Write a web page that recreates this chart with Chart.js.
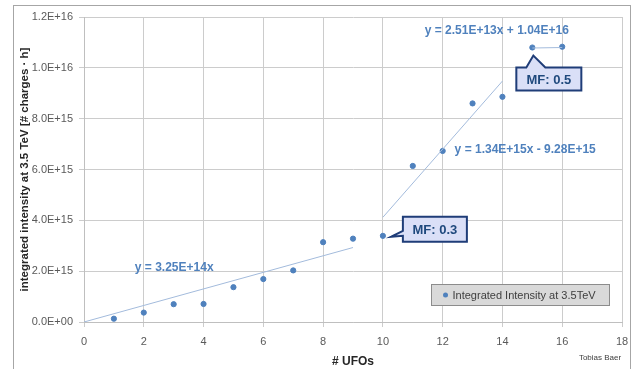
<!DOCTYPE html>
<html>
<head>
<meta charset="utf-8">
<script src="https://cdn.jsdelivr.net/npm/chart.js@4/dist/chart.umd.min.js"></script>
<style>
  html, body { margin: 0; padding: 0; background: #fff; }
  #wrap { width: 632px; height: 369px; }
</style>
</head>
<body>
<div id="wrap"><canvas id="chart" width="632" height="369"></canvas></div>
<script>
// data
const ufos = [1, 2, 3, 4, 5, 6, 7, 8, 9, 10, 11, 12, 13, 14, 15, 16];
const intensity = [1.3e14, 3.7e14, 7.0e14, 7.1e14, 1.37e15, 1.69e15, 2.03e15, 3.14e15,
  3.28e15, 3.39e15, 6.14e15, 6.73e15, 8.6e15, 8.86e15, 1.08e16, 1.083e16];

// trend line end points
const trend1X = [0, 9];
const trend1Y = [0, 2.93e15];
const trend2X = [10, 14];
const trend2Y = [4.12e15, 9.48e15];
const trend3X = [15, 16];
const trend3Y = [1.078e16, 1.08e16];

const equations = ["y = 3.25E+14x", "y = 1.34E+15x - 9.28E+15", "y = 2.51E+13x + 1.04E+16"];
const callouts = ["MF: 0.3", "MF: 0.5"];
const seriesName = "Integrated Intensity at 3.5TeV";
const yTitle = "integrated intensity at 3.5 TeV [# charges \u00b7 h]";
const xTitle = "# UFOs";
const author = "Tobias Baer";

const FONT = "'Liberation Sans', Arial, sans-serif";
const BLUE = "#4f81bd";
const TREND = "#a3bbdc";

function pts(xs, ys) {
  return xs.map((x, i) => ({ x: x, y: ys[i] }));
}

function sci(v) {
  if (v === 0) return "0.0E+00";
  const e = Math.floor(Math.log10(Math.abs(v)) + 1e-9);
  const m = v / Math.pow(10, e);
  return m.toFixed(1) + "E+" + (e < 10 ? "0" + e : e);
}

const decorations = {
  id: "decorations",
  beforeDraw(chart) {
    const ctx = chart.ctx;
    ctx.save();
    ctx.strokeStyle = "#a6a6a6";
    ctx.lineWidth = 1;
    ctx.strokeRect(13.5, 5.5, 617, 380);
    ctx.restore();
  },
  afterDatasetsDraw(chart) {
    const ctx = chart.ctx;
    const xs = chart.scales.x;
    const ys = chart.scales.y;
    const area = chart.chartArea;
    ctx.save();

    // trend equations
    ctx.fillStyle = BLUE;
    ctx.font = "bold 12px " + FONT;
    ctx.textBaseline = "middle";
    ctx.textAlign = "left";
    ctx.fillText(equations[0], xs.getPixelForValue(1.7), ys.getPixelForValue(2.12e15));
    ctx.fillText(equations[1], xs.getPixelForValue(12.4), ys.getPixelForValue(6.76e15));
    ctx.fillText(equations[2], xs.getPixelForValue(11.4), ys.getPixelForValue(1.145e16));

    // callout 1 (left pointer) next to point 10
    let px = xs.getPixelForValue(ufos[9]);
    let py = ys.getPixelForValue(intensity[9]);
    let bx = px + 20, by = py - 19, bw = 64, bh = 25;
    ctx.beginPath();
    ctx.moveTo(bx, by);
    ctx.lineTo(bx + bw, by);
    ctx.lineTo(bx + bw, by + bh);
    ctx.lineTo(bx, by + bh);
    ctx.lineTo(bx, by + 19);
    ctx.lineTo(px + 8, py + 1);
    ctx.lineTo(bx, by + 14);
    ctx.closePath();
    ctx.fillStyle = "#dadff7";
    ctx.fill();
    ctx.strokeStyle = "#1f3d78";
    ctx.lineWidth = 2;
    ctx.stroke();
    ctx.fillStyle = "#1f497d";
    ctx.font = "bold 13px " + FONT;
    ctx.textAlign = "center";
    ctx.fillText(callouts[0], bx + bw / 2, by + bh / 2 + 1);

    // callout 2 (top pointer) under point 15
    px = xs.getPixelForValue(ufos[14]);
    py = ys.getPixelForValue(intensity[14]);
    bx = px - 16; by = py + 20; bw = 65; bh = 23;
    ctx.beginPath();
    ctx.moveTo(bx, by);
    ctx.lineTo(px - 6, by);
    ctx.lineTo(px + 1, py + 8);
    ctx.lineTo(px + 13, by);
    ctx.lineTo(bx + bw, by);
    ctx.lineTo(bx + bw, by + bh);
    ctx.lineTo(bx, by + bh);
    ctx.closePath();
    ctx.fillStyle = "#dadff7";
    ctx.fill();
    ctx.strokeStyle = "#1f3d78";
    ctx.lineWidth = 2;
    ctx.stroke();
    ctx.fillStyle = "#1f497d";
    ctx.fillText(callouts[1], bx + bw / 2, by + bh / 2 + 1);

    // legend box
    const lx = 431.5, ly = 284.5, lw = 178, lh = 21;
    ctx.fillStyle = "#d9d9d9";
    ctx.fillRect(lx, ly, lw, lh);
    ctx.strokeStyle = "#8c8c8c";
    ctx.lineWidth = 1;
    ctx.strokeRect(lx, ly, lw, lh);
    ctx.beginPath();
    ctx.arc(lx + 14, ly + lh / 2, 2.5, 0, Math.PI * 2);
    ctx.fillStyle = BLUE;
    ctx.fill();
    ctx.fillStyle = "#404040";
    ctx.font = "11px " + FONT;
    ctx.textAlign = "left";
    ctx.fillText(seriesName, lx + 21, ly + lh / 2 + 1);

    // axis titles
    ctx.fillStyle = "#262626";
    ctx.font = "bold 12px " + FONT;
    ctx.textAlign = "center";
    ctx.fillText(xTitle, (area.left + area.right) / 2, 362);
    ctx.save();
    ctx.translate(25, (area.top + area.bottom) / 2);
    ctx.rotate(-Math.PI / 2);
    ctx.font = "bold 11.5px " + FONT;
    ctx.fillText(yTitle, 0, 0);
    ctx.restore();

    ctx.fillStyle = "#404040";
    ctx.font = "8px " + FONT;
    ctx.fillText(author, 600, 358);
    ctx.restore();
  }
};

const trendStyle = {
  showLine: true,
  pointRadius: 0,
  borderColor: TREND,
  borderWidth: 1,
  fill: false
};

new Chart(document.getElementById("chart").getContext("2d"), {
  type: "scatter",
  data: {
    datasets: [
      Object.assign({ label: "trend1", data: pts(trend1X, trend1Y) }, trendStyle),
      Object.assign({ label: "trend2", data: pts(trend2X, trend2Y) }, trendStyle),
      Object.assign({ label: "trend3", data: pts(trend3X, trend3Y) }, trendStyle),
      {
        label: seriesName,
        data: pts(ufos, intensity),
        pointRadius: 2.6,
        pointBackgroundColor: BLUE,
        pointBorderColor: BLUE,
        showLine: false
      }
    ]
  },
  options: {
    responsive: false,
    animation: false,
    devicePixelRatio: 1,
    layout: { padding: { top: 17, right: 10, left: 0, bottom: 0 } },
    plugins: {
      legend: { display: false },
      tooltip: { enabled: false }
    },
    scales: {
      x: {
        type: "linear",
        min: 0,
        max: 18,
        afterFit: (s) => { s.height = 47; s.paddingRight = 0; s.paddingLeft = 0; },
        ticks: { stepSize: 2, color: "#595959", font: { family: FONT, size: 11 }, padding: 8 },
        grid: { color: "#cccccc", tickLength: 5 },
        border: { color: "#bfbfbf" }
      },
      y: {
        type: "linear",
        min: 0,
        max: 1.2e16,
        afterFit: (s) => { s.width = 84; s.paddingTop = 0; s.paddingBottom = 0; },
        ticks: {
          stepSize: 2e15,
          color: "#595959",
          font: { family: FONT, size: 11 },
          padding: 6,
          callback: (v) => sci(v)
        },
        grid: { color: "#cccccc", tickLength: 5 },
        border: { color: "#bfbfbf" }
      }
    }
  },
  plugins: [decorations]
});
</script>
</body>
</html>
